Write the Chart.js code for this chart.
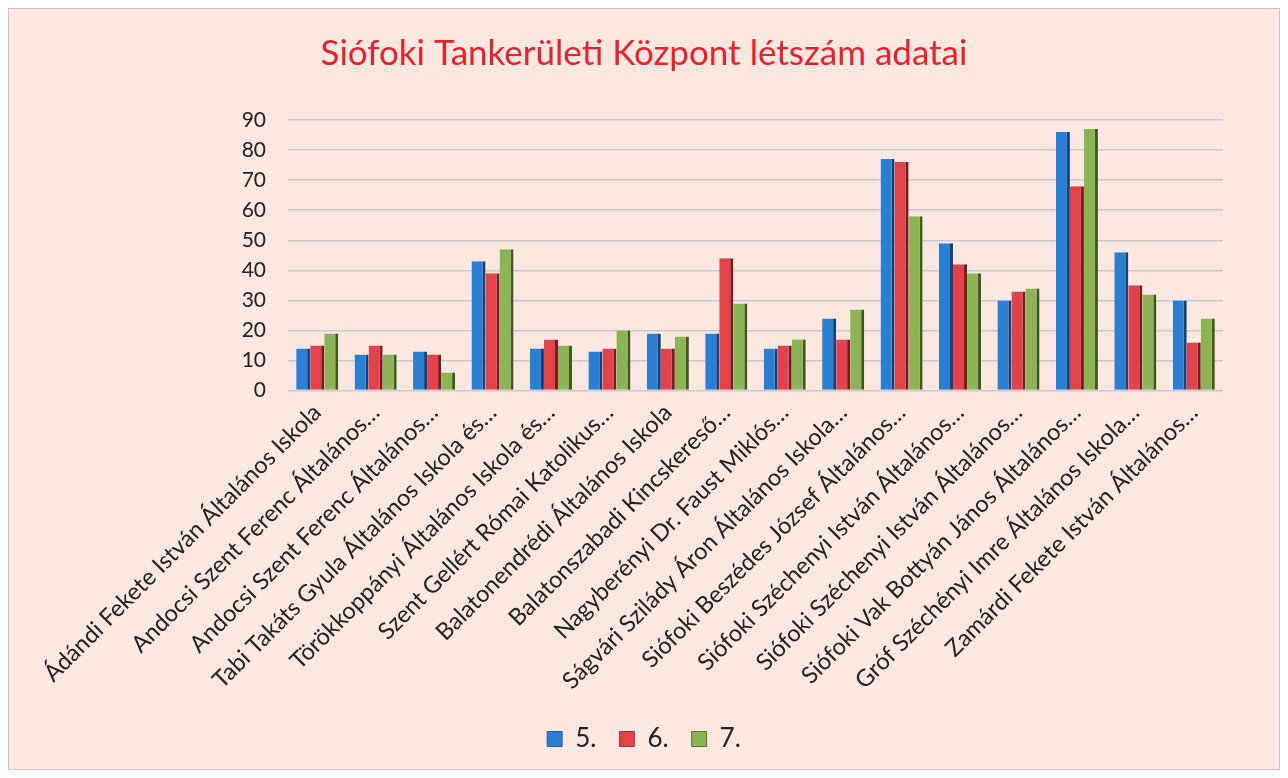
<!DOCTYPE html>
<html>
<head>
<meta charset="utf-8">
<script src="https://cdn.jsdelivr.net/npm/chart.js@4.4.1/dist/chart.umd.min.js"></script>
<style>
  html, body { margin: 0; padding: 0; background: #ffffff; }
  #card { position: absolute; left: 8px; top: 8px; width: 1270px; height: 760px;
          background: #fce8e0; border: 1px solid #c9c3c0; }
  #wrap { position: absolute; left: 0; top: 0; width: 1270px; height: 760px; }
</style>
</head>
<body>
<div id="card"><div id="wrap"><canvas id="c"></canvas></div></div>
<script>
const categories = [
  "Ádándi Fekete István Általános Iskola",
  "Andocsi Szent Ferenc Általános…",
  "Andocsi Szent Ferenc Általános…",
  "Tabi Takáts Gyula Általános Iskola és…",
  "Törökkoppányi Általános Iskola és…",
  "Szent Gellért Római Katolikus…",
  "Balatonendrédi Általános Iskola",
  "Balatonszabadi Kincskereső…",
  "Nagyberényi Dr. Faust Miklós…",
  "Ságvári Szilády Áron Általános Iskola…",
  "Siófoki Beszédes József Általános…",
  "Siófoki Széchenyi István Általános…",
  "Siófoki Széchenyi István Általános…",
  "Siófoki Vak Bottyán János Általános…",
  "Gróf Széchényi Imre Általános Iskola…",
  "Zamárdi Fekete István Általános…"
];
const seriesNames = ["5.", "6.", "7."];
const grade5 = [14, 12, 13, 43, 14, 13, 19, 19, 14, 24, 77, 49, 30, 86, 46, 30];
const grade6 = [15, 15, 12, 39, 17, 14, 14, 44, 15, 17, 76, 42, 33, 68, 35, 16];
const grade7 = [19, 12, 6, 47, 15, 20, 18, 29, 17, 27, 58, 39, 34, 87, 32, 24];
const yTicks = [0, 10, 20, 30, 40, 50, 60, 70, 80, 90];
const chartTitle = "Siófoki Tankerületi Központ létszám adatai";

const fills = ["#2b7fd2", "#e2434b", "#8db454"];
const sides = ["#15407a", "#7a1a20", "#3e5a1e"];

const ds = [grade5, grade6, grade7].map((vals, i) => ({
  label: seriesNames[i],
  data: vals,
  yAxisID: 'y',
  backgroundColor: fills[i],
  borderColor: sides[i],
  borderWidth: { top: 0, left: 0, bottom: 0, right: 3 },
  borderSkipped: false,
  barPercentage: 1.0,
  categoryPercentage: 0.72
}));

new Chart(document.getElementById('c'), {
  type: 'bar',
  data: { labels: categories, datasets: ds },
  options: {
    responsive: true,
    maintainAspectRatio: false,
    animation: false,
    layout: { padding: { left: 0, right: 0, top: 0, bottom: 7 } },
    plugins: {
      title: {
        display: true, text: chartTitle, color: '#e8212b',
        font: { family: 'Lato', size: 35, weight: 'normal' },
        padding: { top: 24, bottom: 45 }
      },
      legend: {
        position: 'bottom',
        labels: {
          color: '#222', font: { family: 'Lato', size: 26 },
          boxWidth: 15, boxHeight: 15, padding: 23
        }
      },
      tooltip: { enabled: false }
    },
    scales: {
      x: {
        grid: { display: false },
        border: { display: false },
        afterFit: (ax) => { ax.height += 8; },
        ticks: {
          color: '#222', font: { family: 'Lato', size: 23.5 },
          maxRotation: 45, minRotation: 45, autoSkip: false, padding: 0
        }
      },
      y: {
        position: 'left',
        min: 0, max: 90,
        afterBuildTicks: (ax) => { ax.ticks = yTicks.map(v => ({ value: v })); },
        afterFit: (ax) => { ax.width = 279; },
        grid: { color: '#c7cad6', lineWidth: 1.5, drawTicks: false },
        border: { display: false },
        ticks: { color: '#222', font: { family: 'Lato', size: 21 }, padding: 22 }
      },
      yRight: {
        position: 'right',
        display: true,
        min: 0, max: 90,
        afterFit: (ax) => { ax.width = 56; },
        grid: { display: false, drawOnChartArea: false },
        border: { display: false },
        ticks: { display: false }
      }
    }
  }
});
</script>
</body>
</html>
